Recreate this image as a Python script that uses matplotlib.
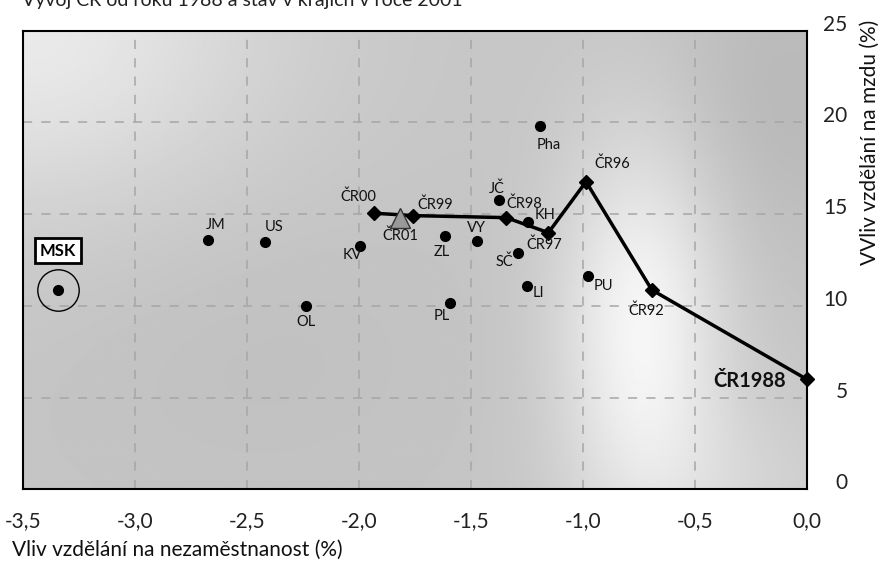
import numpy as np
import matplotlib
matplotlib.use("Agg")
import matplotlib.pyplot as plt

plt.rcParams['font.family'] = ['Lato', 'DejaVu Sans']

# ---- data ----
regions = ['JM', 'US', 'OL', 'KV', 'ZL', 'VY', 'PL', 'Pha', 'JČ', 'KH', 'SČ', 'LI', 'PU']
region_x = [-2.676, -2.42, -2.237, -1.996, -1.616, -1.474, -1.593, -1.191, -1.374, -1.246, -1.288, -1.251, -0.975]
region_y = [13.58, 13.47, 9.98, 13.27, 13.83, 13.54, 10.14, 19.81, 15.77, 14.59, 12.90, 11.10, 11.65]

msk_label = 'MSK'
msk_x = -3.344
msk_y = 10.88

cr_labels = ['ČR1988', 'ČR92', 'ČR96', 'ČR97', 'ČR98', 'ČR99', 'ČR00']
cr_x = [0.0, -0.692, -0.986, -1.154, -1.343, -1.757, -1.932]
cr_y = [6.0, 10.87, 16.77, 13.99, 14.81, 14.92, 15.05]

cr01_label = 'ČR01'
cr01_x = -1.817
cr01_y = 14.78

xticks = [-3.5, -3.0, -2.5, -2.0, -1.5, -1.0, -0.5, 0.0]
xtick_labels = ['-3,5', '-3,0', '-2,5', '-2,0', '-1,5', '-1,0', '-0,5', '0,0']
yticks = [0, 5, 10, 15, 20, 25]
ytick_labels = ['0', '5', '10', '15', '20', '25']

title = 'Vývoj ČR od roku 1988 a stav v krajích v roce 2001'
xlabel = 'Vliv vzdělání na nezaměstnanost (%)'
ylabel = 'VVliv vzdělání na mzdu (%)'

# label offsets in pixels (dx right, dy down)
label_offsets = {
    'JM': (8, -15), 'US': (9, -15), 'OL': (0, 16), 'KV': (-8, 9), 'ZL': (-3, 16),
    'VY': (0, -13), 'PL': (-8, 13), 'Pha': (9, 19), 'JČ': (-2, -11), 'KH': (17, -7),
    'SČ': (-14, 9), 'LI': (12, 7), 'PU': (15, 10),
    'ČR00': (-16, -16), 'ČR01': (0, 18), 'ČR99': (22, -11), 'ČR98': (18, -14),
    'ČR97': (-4, 12), 'ČR96': (26, -18), 'ČR92': (-6, 21),
}

# ---- figure ----
fig = plt.figure(figsize=(8.85, 5.65), dpi=100)
ax = fig.add_axes([23.3 / 885, 1 - 489.3 / 565, (806.7 - 23.3) / 885, (489.3 - 30.7) / 565])
ax.set_xlim(-3.5, 0)
ax.set_ylim(0, 25)

# background gradient
nu, nv = 400, 300
u = np.linspace(0, 1, nu)
v = np.linspace(0, 1, nv)
U, V = np.meshgrid(u, v)
bg = (0.775
      + 0.14 * np.exp(-((U - 0.0) ** 2 / (2 * 0.22 ** 2) + (V - 1.0) ** 2 / (2 * 0.28 ** 2)))
      + 0.19 * np.exp(-((U - 0.79) ** 2 / (2 * 0.075 ** 2) + (V - 0.36) ** 2 / (2 * 0.30 ** 2)))
      + 0.05 * np.exp(-((U - 0.9) ** 2 / (2 * 0.12 ** 2) + (V - 0.0) ** 2 / (2 * 0.15 ** 2)))
      - 0.05 * np.exp(-((U - 0.97) ** 2 / (2 * 0.12 ** 2) + (V - 0.85) ** 2 / (2 * 0.25 ** 2)))
      - 0.02 * np.exp(-((U - 0.3) ** 2 / (2 * 0.2 ** 2) + (V - 0.3) ** 2 / (2 * 0.25 ** 2))))
bg = np.clip(bg, 0, 1)
ax.imshow(bg, extent=(-3.5, 0, 0, 25), origin='lower', aspect='auto', cmap='gray',
          vmin=0, vmax=1, zorder=0, interpolation='bilinear')

# grid
for gx in xticks[1:-1]:
    ax.axvline(gx, color='#a6a6a6', lw=1.1, dashes=(6, 6), zorder=1)
for gy in yticks[1:-1]:
    ax.axhline(gy, color='#a6a6a6', lw=1.1, dashes=(6, 6), zorder=1)

# CR line
ax.plot(cr_x, cr_y, color='black', lw=2.5, marker='D', markersize=7, zorder=4, clip_on=False)
# CR01 triangle
ax.plot([cr01_x], [cr01_y], marker='^', markersize=14, color='#999999',
        markeredgecolor='#333333', markeredgewidth=1, zorder=5, linestyle='none')

# regions
ax.plot(region_x, region_y, 'o', color='black', markersize=7, zorder=4)
ax.plot([msk_x], [msk_y], 'o', color='black', markersize=7, zorder=4)
ax.plot([msk_x], [msk_y], 'o', markerfacecolor='none', markeredgecolor='black',
        markeredgewidth=1, markersize=29.8, zorder=4)

def lab(name, x, y):
    dx, dy = label_offsets[name]
    ax.annotate(name, (x, y), xytext=(dx, -dy), textcoords='offset pixels',
                ha='center', va='center', fontsize=10.5, color='#111111', zorder=6)

for n, x, y in zip(regions, region_x, region_y):
    lab(n, x, y)
for n, x, y in zip(cr_labels, cr_x, cr_y):
    if n == 'ČR1988':
        ax.annotate(n, (x, y), xytext=(-21, -2), textcoords='offset pixels',
                    ha='right', va='center', fontsize=14.5, fontweight='bold',
                    color='#111111', zorder=6)
    else:
        lab(n, x, y)
lab(cr01_label, cr01_x, cr01_y)

ax.annotate(msk_label, (msk_x, msk_y), xytext=(0, 39), textcoords='offset pixels',
            ha='center', va='center', fontsize=12, fontweight='bold', color='black',
            bbox=dict(boxstyle='square,pad=0.28', facecolor='white', edgecolor='black', lw=2),
            zorder=6)

# axes styling
for s in ax.spines.values():
    s.set_color('black')
    s.set_linewidth(1.5)
    s.set_zorder(7)

ax.set_xticks(xticks)
ax.set_xticklabels(xtick_labels, fontsize=15, color='#222222')
ax.tick_params(axis='x', length=0, pad=16)

ax.yaxis.tick_right()
ax.set_yticks(yticks)
ax.set_yticklabels(ytick_labels, fontsize=15, color='#222222')
ax.tick_params(axis='y', length=0, pad=29.5)
for t in ax.get_yticklabels():
    t.set_horizontalalignment('right')
    t.set_verticalalignment('baseline')

fig.text(12 / 885, 1 - 550 / 565, xlabel, ha='left', va='center', fontsize=15,
         color='#111111')
fig.text(870 / 885, 1 - 142 / 565, ylabel, ha='center', va='center', rotation=90,
         fontsize=15, color='#111111')
fig.text(22 / 885, 1 - 6 / 565, title, ha='left', va='baseline', fontsize=14,
         color='#222222')

fig.savefig('out.png', dpi=100)
